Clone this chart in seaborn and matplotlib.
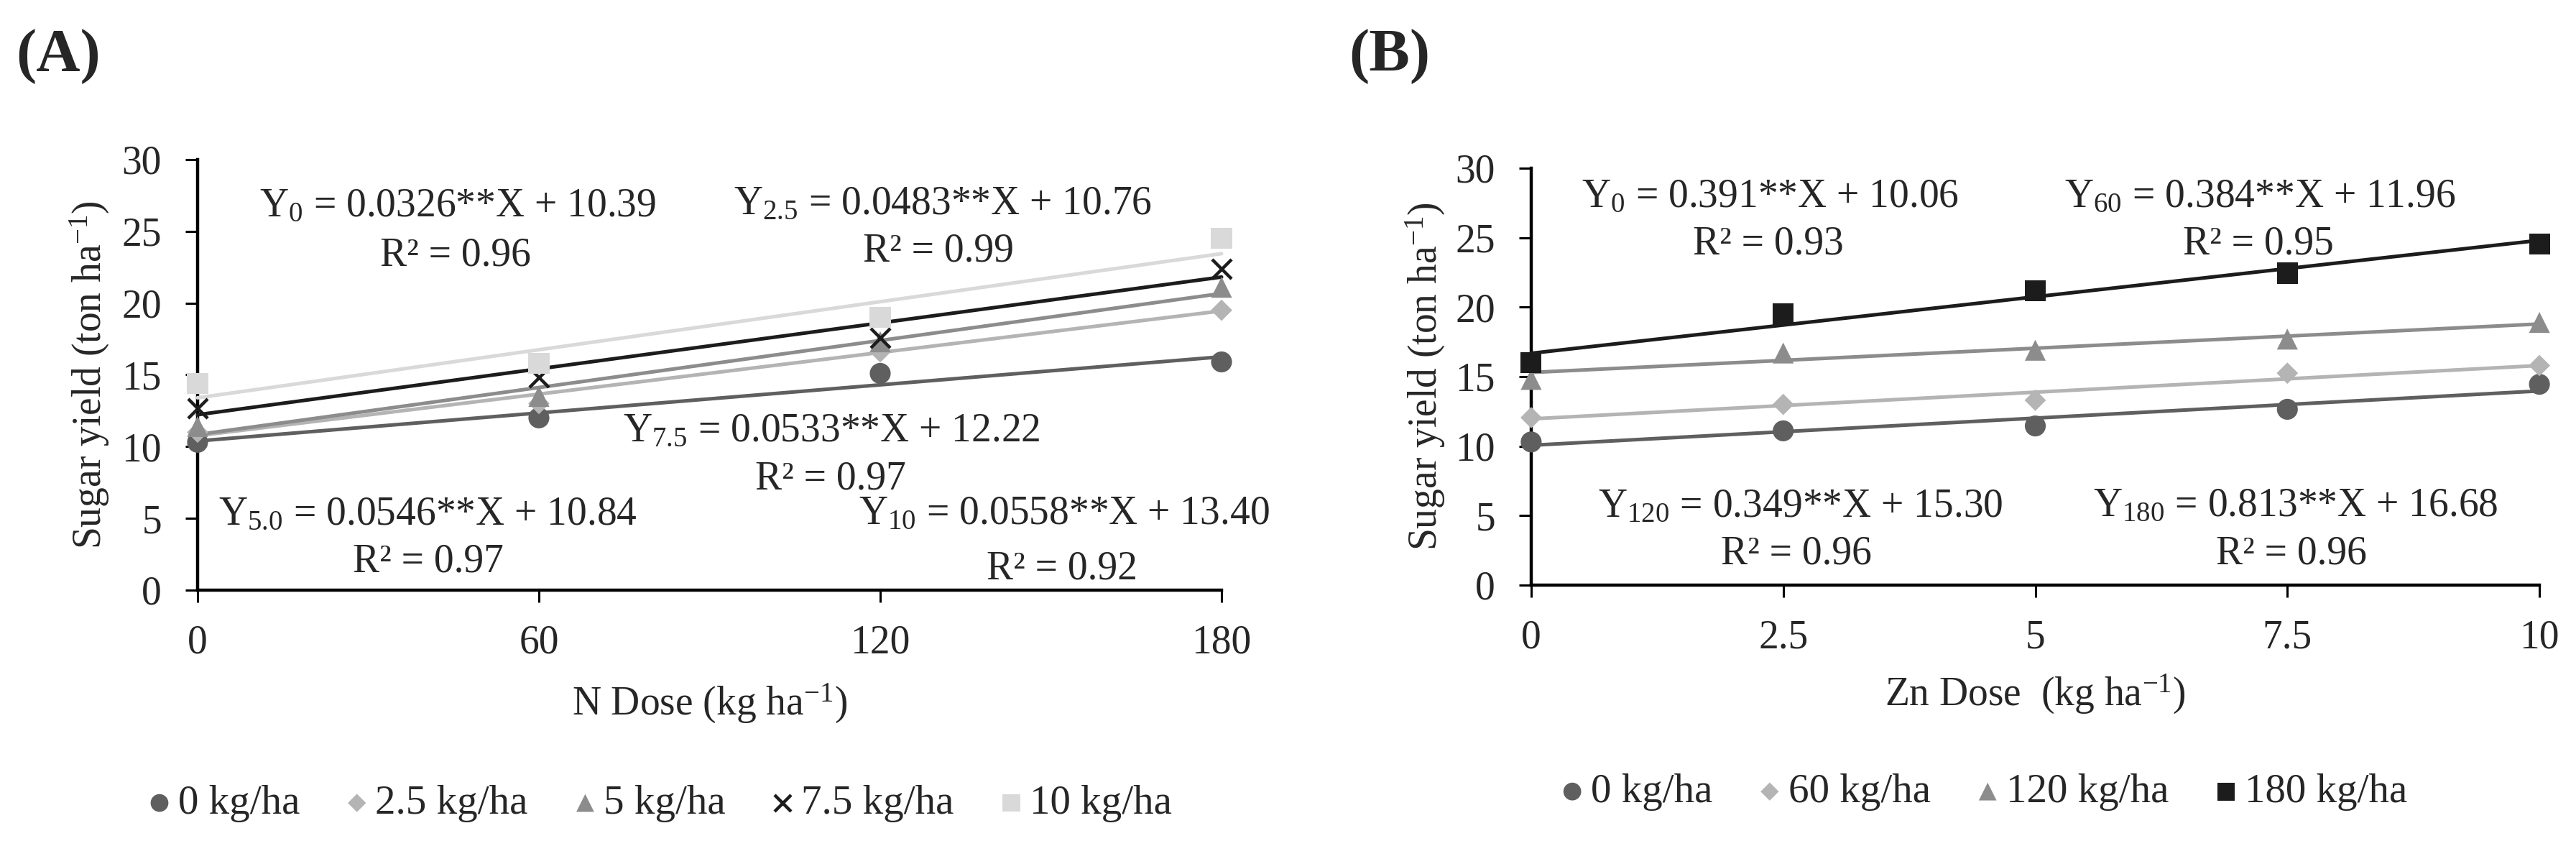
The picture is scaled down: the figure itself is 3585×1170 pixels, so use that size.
#!/usr/bin/env python3

# libraries
import matplotlib
matplotlib.use('Agg')

import matplotlib.pyplot as plt
import numpy as np
import pandas as pd
import seaborn as sns

# ------------------------------------------------------------
#     Data
# ------------------------------------------------------------

# (A) sugar yield vs N dose, one series per Zn dose
n_dose = [0, 60, 120, 180]
a_labels = ["0 kg/ha", "2.5 kg/ha", "5 kg/ha", "7.5 kg/ha", "10 kg/ha"]
a_subs = ["0", "2.5", "5.0", "7.5", "10"]
a_zn0 = [10.3, 12.0, 15.1, 15.9]
a_zn25 = [11.0, 13.0, 16.6, 19.5]
a_zn5 = [11.4, 13.5, 17.3, 21.1]
a_zn75 = [12.65, 14.8, 17.6, 22.4]
a_zn10 = [14.4, 15.8, 19.0, 24.5]
a_slope = [0.0326, 0.0483, 0.0546, 0.0533, 0.0558]
a_icpt = [10.39, 10.76, 10.84, 12.22, 13.40]
a_r2 = [0.96, 0.99, 0.97, 0.97, 0.92]

# (B) sugar yield vs Zn dose, one series per N dose
zn_dose = [0, 2.5, 5, 7.5, 10]
b_labels = ["0 kg/ha", "60 kg/ha", "120 kg/ha", "180 kg/ha"]
b_subs = ["0", "60", "120", "180"]
b_n0 = [10.3, 11.1, 11.45, 12.65, 14.45]
b_n60 = [12.05, 13.0, 13.3, 15.25, 15.8]
b_n120 = [14.8, 16.7, 16.9, 17.7, 18.9]
b_n180 = [16.0, 19.5, 21.2, 22.45, 24.55]
b_slope = [0.391, 0.384, 0.349, 0.813]
b_icpt = [10.06, 11.96, 15.30, 16.68]
b_r2 = [0.93, 0.95, 0.96, 0.96]

# ------------------------------------------------------------
#     Styles
# ------------------------------------------------------------

sns.set_style("white")
plt.rcParams['font.family'] = ['Liberation Serif', 'DejaVu Serif']
plt.rcParams['mathtext.fontset'] = 'custom'
plt.rcParams['mathtext.rm'] = 'Liberation Serif'
plt.rcParams['mathtext.it'] = 'Liberation Serif:italic'
plt.rcParams['mathtext.bf'] = 'Liberation Serif:bold'

FS = 40
c_dark = "#5f5f5f"
c_light = "#b4b4b4"
c_mid = "#8c8c8c"
c_black = "#1c1c1c"
c_pale = "#d9d9d9"

# marker, scatter size, colour
a_style = [("o", 440, c_dark), ("D", 230, c_light), ("^", 440, c_mid),
           ("x", 380, c_black), ("s", 440, c_pale)]
b_style = [("o", 440, c_dark), ("D", 230, c_light), ("^", 440, c_mid),
           ("s", 440, c_black)]

# equation anchors (data coords): (x, y_eq_baseline, x_r2, y_r2_baseline)
a_pos = [(45.7, 26.05, 45.3, 22.6), (131.0, 26.2, 130.2, 22.9),
         (40.5, 4.55, 40.5, 1.3), (111.5, 10.35, 111.3, 7.05),
         (152.3, 4.6, 152.0, 0.8)]
b_pos = [(2.37, 27.2, 2.35, 23.8), (7.23, 27.2, 7.21, 23.8),
         (2.67, 4.9, 2.63, 1.5), (7.58, 4.97, 7.54, 1.55)]


def draw_panel(ax, dose, series, labels, subs, slope, icpt, r2, styles, pos,
               xmax, xticks, xlabel):
    rows = []
    for lab, vals in zip(labels, series):
        for d, v in zip(dose, vals):
            rows.append({"dose": d, "yield": v, "group": lab})
    df = pd.DataFrame(rows)

    dose_arr = np.array(dose, dtype=float)
    handles = []
    for i, lab in enumerate(labels):
        mk, size, col = styles[i]
        fit = pd.DataFrame({"dose": dose_arr,
                            "fit": icpt[i] + slope[i] * dose_arr})
        sns.lineplot(data=fit, x="dose", y="fit", color=col, linewidth=3.6,
                     ax=ax, legend=False, zorder=3, clip_on=False)
        sub = df[df["group"] == lab]
        if mk == "x":
            sns.scatterplot(data=sub, x="dose", y="yield", marker=mk, s=size,
                            color=col, linewidth=3.2, ax=ax, zorder=4,
                            clip_on=False, label=lab)
        else:
            sns.scatterplot(data=sub, x="dose", y="yield", marker=mk, s=size,
                            color=col, edgecolor="none", linewidth=0, ax=ax,
                            zorder=4, clip_on=False, label=lab)
        handles.append(ax.collections[-1])

        # equation and R2
        x_eq, y_eq, x_r, y_r = pos[i]
        eq = "Y$_{%s}$ = %g**X + %.2f" % (subs[i], slope[i], icpt[i])
        ax.text(x_eq, y_eq, eq, ha="center", va="baseline", fontsize=FS)
        ax.text(x_r, y_r, "R\u00b2 = %.2f" % r2[i], ha="center",
                va="baseline", fontsize=FS)

    ax.set_xlim(0, xmax)
    ax.set_ylim(0, 30)
    ax.set_xticks(xticks)
    ax.set_xticklabels([("%g" % t) for t in xticks])
    ax.set_yticks(range(0, 31, 5))
    ax.tick_params(axis="both", which="major", direction="out", length=12,
                   width=2.2, labelsize=FS, color="black", bottom=True,
                   left=True)
    ax.tick_params(axis="x", pad=22)
    ax.tick_params(axis="y", pad=24)
    sns.despine(ax=ax)
    for side in ["left", "bottom"]:
        ax.spines[side].set_linewidth(3.2)
        ax.spines[side].set_color("black")

    ax.set_ylabel("Sugar yield (ton ha$^{-1}$)", fontsize=FS)
    ax.yaxis.set_label_coords(-0.105, 0.5)
    ax.yaxis.label.set_verticalalignment("center")
    ax.set_xlabel(xlabel, fontsize=FS)
    ax.xaxis.set_label_coords(0.5, -0.29)
    ax.xaxis.label.set_verticalalignment("baseline")
    return handles


fig = plt.figure(figsize=(35.85, 11.70), dpi=100)
ax_a = fig.add_axes([0.0767, 0.2983, 0.3975, 0.512])
ax_b = fig.add_axes([0.5944, 0.3043, 0.3914, 0.4957])

h_a = draw_panel(ax_a, n_dose, [a_zn0, a_zn25, a_zn5, a_zn75, a_zn10],
                 a_labels, a_subs, a_slope, a_icpt, a_r2, a_style, a_pos,
                 180, [0, 60, 120, 180], "N Dose (kg ha$^{-1}$)")
h_b = draw_panel(ax_b, zn_dose, [b_n0, b_n60, b_n120, b_n180],
                 b_labels, b_subs, b_slope, b_icpt, b_r2, b_style, b_pos,
                 10, [0, 2.5, 5, 7.5, 10], "Zn Dose  (kg ha$^{-1}$)")

for ax, h, labs, anchor, nc in [(ax_a, h_a, a_labels, (0.256, 0.0444), 5),
                                 (ax_b, h_b, b_labels, (0.770, 0.058), 4)]:
    ax.legend(handles=h, labels=labs, loc="center", bbox_to_anchor=anchor,
              bbox_transform=fig.transFigure, ncol=nc, frameon=False,
              fontsize=41, handlelength=0.6, handletextpad=0.15,
              columnspacing=1.1, markerscale=0.85, borderpad=0)

fig.text(0.0226, 0.9325, "(A)", fontsize=61, fontweight="bold",
         ha="center", va="center")
fig.text(0.5395, 0.9325, "(B)", fontsize=61, fontweight="bold",
         ha="center", va="center")

plt.savefig("out.png", dpi=100, facecolor="white")
